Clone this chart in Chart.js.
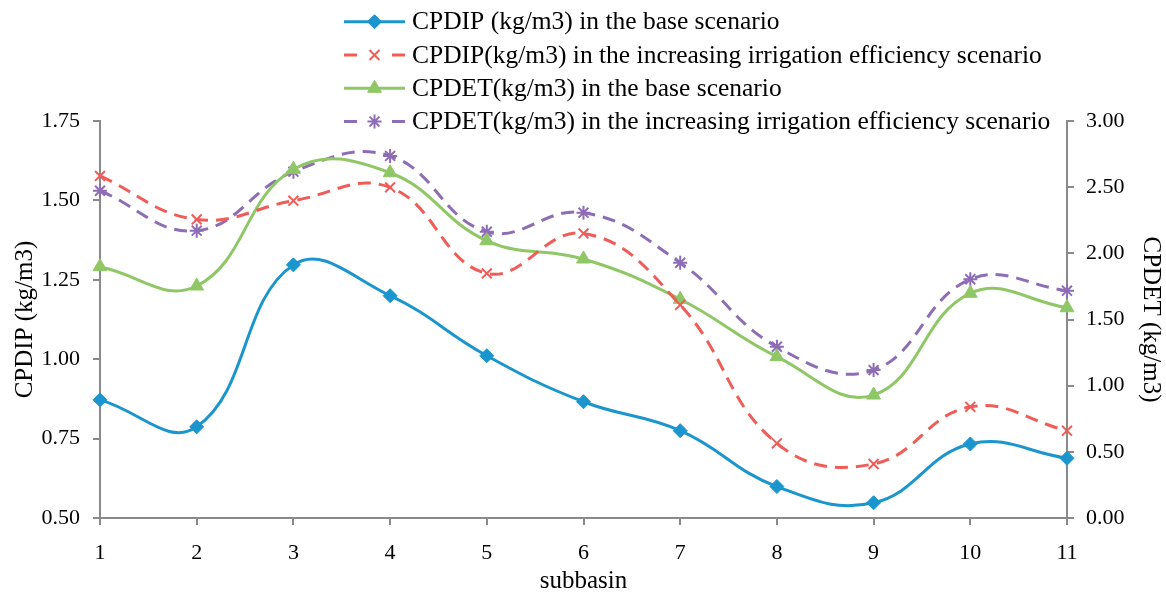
<!DOCTYPE html>
<html>
<head>
<meta charset="utf-8">
<script src="https://cdn.jsdelivr.net/npm/chart.js@4.4.1/dist/chart.umd.min.js"></script>
<style>
html,body{margin:0;padding:0;background:#fff;}
canvas{display:block;}
</style>
</head>
<body>
<canvas id="c" width="1166" height="598"></canvas>
<script>
const subbasins = ['1','2','3','4','5','6','7','8','9','10','11'];
const cpdipBase = [0.872,0.787,1.297,1.200,1.011,0.866,0.775,0.599,0.548,0.733,0.688];
const cpdipIrr  = [1.577,1.440,1.499,1.541,1.270,1.396,1.171,0.735,0.670,0.850,0.775];
const cpdetBase = [1.899,1.753,2.635,2.609,2.095,1.957,1.653,1.219,0.929,1.698,1.589];
const cpdetIrr  = [2.473,2.171,2.617,2.736,2.163,2.307,1.929,1.294,1.118,1.804,1.718];
const seriesLabels = [
  'CPDIP (kg/m3) in the base scenario',
  'CPDIP(kg/m3) in the increasing irrigation efficiency scenario',
  'CPDET(kg/m3) in the base scenario',
  'CPDET(kg/m3) in the increasing irrigation efficiency scenario'
];
const leftTitle = 'CPDIP (kg/m3)';
const rightTitle = 'CPDET (kg/m3)';
const xTitle = 'subbasin';

const FONT = "'Liberation Serif', 'Times New Roman', serif";
const AXIS = '#8a8a8a';
const C_BLUE = '#1b95cd', C_RED = '#f05c57', C_GREEN = '#8fc766', C_PURPLE = '#8d6db5';

function ds(label, data, color, axis, style, radius, dash) {
  return {
    label, data, yAxisID: axis,
    borderColor: color, backgroundColor: color,
    pointBackgroundColor: color, pointBorderColor: color,
    pointStyle: style, pointRadius: radius, pointHoverRadius: radius,
    pointBorderWidth: (style === 'crossRot' || style === 'star') ? 2 : 1,
    borderWidth: 3, borderDash: dash || [], tension: 0.42, fill: false
  };
}

const legendPlugin = {
  id: 'customLegend',
  afterDraw(chart) {
    const ctx = chart.ctx;
    ctx.save();
    chart.data.datasets.forEach((d, i) => {
      const y = 21.7 + i * 33.3;
      const x0 = 344, x1 = 405, xm = (x0 + x1) / 2;
      ctx.strokeStyle = d.borderColor;
      ctx.lineWidth = d.borderWidth;
      ctx.setLineDash([]);
      ctx.beginPath();
      if (d.borderDash && d.borderDash.length) {
        ctx.moveTo(x0, y); ctx.lineTo(x0 + 13, y);
        ctx.moveTo(x1 - 13, y); ctx.lineTo(x1, y);
      } else {
        ctx.moveTo(x0, y); ctx.lineTo(x1, y);
      }
      ctx.stroke();
      ctx.fillStyle = d.pointBackgroundColor;
      ctx.strokeStyle = d.pointBorderColor;
      ctx.lineWidth = d.pointBorderWidth;
      Chart.helpers.drawPoint(ctx, {pointStyle: d.pointStyle, radius: d.pointRadius, rotation: 0, borderWidth: d.pointBorderWidth}, xm, y);
      ctx.fillStyle = '#000';
      ctx.font = "25.5px " + FONT;
      ctx.textBaseline = 'middle';
      ctx.textAlign = 'left';
      ctx.fillText(d.label, 412, y + 1);
    });
    ctx.restore();
  }
};

new Chart(document.getElementById('c'), {
  type: 'line',
  data: {
    labels: subbasins,
    datasets: [
      ds(seriesLabels[0], cpdipBase, C_BLUE, 'yL', 'rectRot', 7),
      ds(seriesLabels[1], cpdipIrr, C_RED, 'yL', 'crossRot', 7, [13, 8]),
      ds(seriesLabels[2], cpdetBase, C_GREEN, 'yR', 'triangle', 8),
      ds(seriesLabels[3], cpdetIrr, C_PURPLE, 'yR', 'star', 7, [13, 8])
    ]
  },
  options: {
    responsive: false,
    animation: false,
    layout: { padding: { top: 121, left: 0, right: 0, bottom: 0 } },
    plugins: { legend: { display: false }, tooltip: { enabled: false } },
    scales: {
      x: {
        type: 'category',
        offset: false,
        afterFit(s) { s.height = 80; },
        grid: { drawOnChartArea: false, drawTicks: true, tickLength: 7, color: AXIS, lineWidth: 2 },
        border: { color: AXIS, width: 2 },
        ticks: { color: '#000', font: { family: FONT, size: 22 }, padding: 15, maxRotation: 0, autoSkip: false },
        title: { display: true, text: xTitle, color: '#000', font: { family: FONT, size: 25 }, padding: { top: 0, bottom: 2 } }
      },
      yL: {
        position: 'left',
        min: 0.5, max: 1.75,
        afterFit(s) { s.width = 100; },
        grid: { drawOnChartArea: false, drawTicks: true, tickLength: 7, color: AXIS, lineWidth: 2 },
        border: { color: AXIS, width: 2 },
        ticks: { stepSize: 0.25, color: '#000', font: { family: FONT, size: 22 }, padding: 13, callback: v => Number(v).toFixed(2) },
        title: { display: true, text: leftTitle, color: '#000', font: { family: FONT, size: 25 }, padding: { top: 10, bottom: 0 } }
      },
      yR: {
        position: 'right',
        min: 0, max: 3,
        afterFit(s) { s.width = 99; },
        grid: { drawOnChartArea: false, drawTicks: true, tickLength: 7, color: AXIS, lineWidth: 2 },
        border: { color: AXIS, width: 2 },
        ticks: { stepSize: 0.5, color: '#000', font: { family: FONT, size: 22 }, padding: 12, callback: v => Number(v).toFixed(2) },
        title: { display: true, text: rightTitle, color: '#000', font: { family: FONT, size: 25 }, padding: { top: 0, bottom: 0 } }
      }
    }
  },
  plugins: [legendPlugin]
});
</script>
</body>
</html>
